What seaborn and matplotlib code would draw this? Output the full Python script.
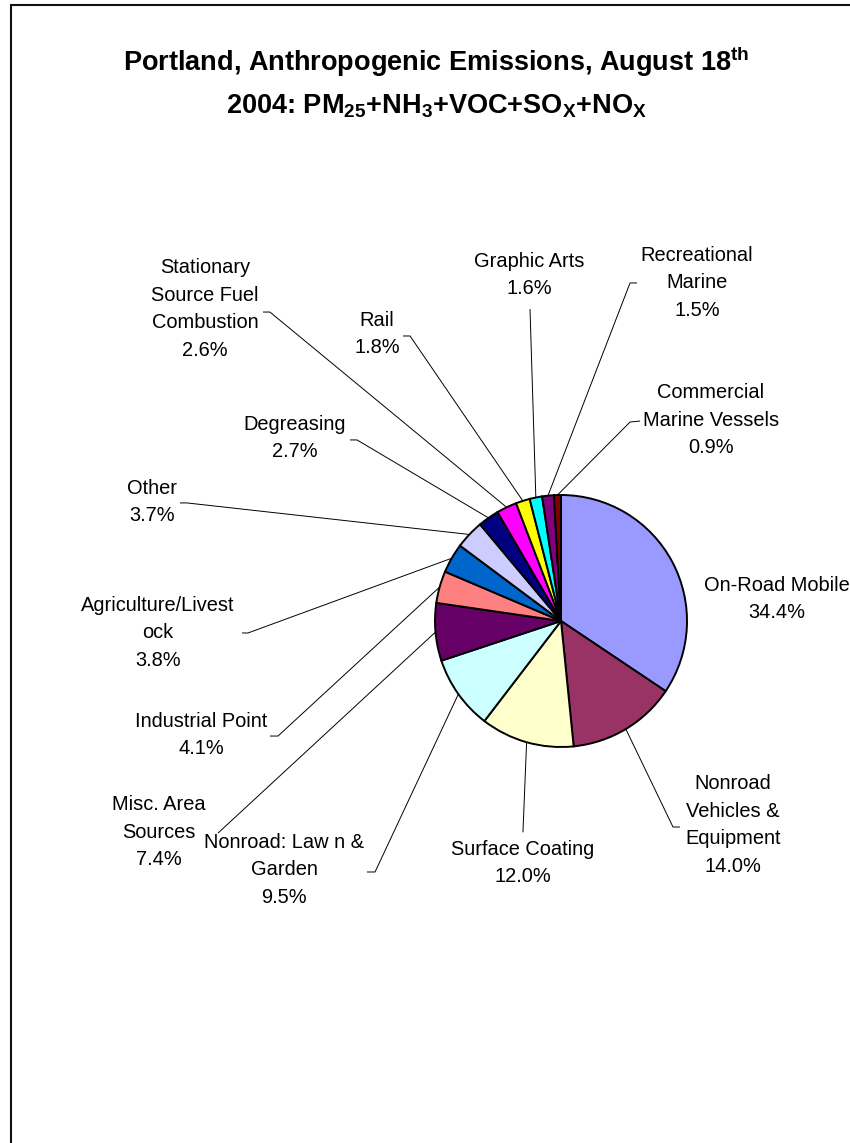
import matplotlib
matplotlib.use("Agg")
import matplotlib.pyplot as plt
from matplotlib.patches import Rectangle
import numpy as np
import seaborn as sns

# Emission source categories (clockwise from 12 o'clock) and their shares (%)
categories = [
    "On-Road Mobile",
    "Nonroad\nVehicles &\nEquipment",
    "Surface Coating",
    "Nonroad: Law n &\nGarden",
    "Misc. Area\nSources",
    "Industrial Point",
    "Agriculture/Livest\nock",
    "Other",
    "Degreasing",
    "Stationary\nSource Fuel\nCombustion",
    "Rail",
    "Graphic Arts",
    "Recreational\nMarine",
    "Commercial\nMarine Vessels",
]
shares = [34.4, 14.0, 12.0, 9.5, 7.4, 4.1, 3.8, 3.7, 2.7, 2.6, 1.8, 1.6, 1.5, 0.9]
slice_colors = [
    "#9999FF", "#993366", "#FFFFCC", "#CCFFFF", "#660066", "#FF8080", "#0066CC",
    "#CCCCFF", "#000080", "#FF00FF", "#FFFF00", "#00FFFF", "#800080", "#800000",
]

# Label layout, in pie-radius units relative to the pie centre:
# text centre, and the leader-line path (elbow, end) or None
label_pos = [
    (1.714, 0.175), (1.365, -1.619), (-0.302, -1.921), (-2.198, -1.976),
    (-3.190, -1.675), (-2.857, -0.905), (-3.198, -0.095), (-3.246, 0.944),
    (-2.111, 1.452), (-2.825, 2.476), (-1.460, 2.278), (-0.254, 2.746),
    (1.079, 2.683), (1.190, 1.595),
]
leader_path = [
    None,
    [(0.889, -1.635), (0.944, -1.635)],
    [(-0.302, -1.677)],
    [(-1.476, -1.992), (-1.540, -1.992)],
    [(-2.722, -1.683)],
    [(-2.246, -0.913), (-2.310, -0.913)],
    [(-2.484, -0.095), (-2.532, -0.095)],
    [(-2.968, 0.937), (-3.024, 0.937)],
    [(-1.619, 1.437), (-1.675, 1.437)],
    [(-2.310, 2.452), (-2.365, 2.452)],
    [(-1.198, 2.262), (-1.254, 2.262)],
    [(-0.246, 2.476)],
    [(0.548, 2.683), (0.603, 2.683)],
    [(0.548, 1.579), (0.627, 1.587)],
]

W, H = 850, 1143
PIE_CX, PIE_CY, PIE_R = 561, 621, 126  # pixels, from top-left

sns.set_theme(style="white")
plt.rcParams["font.family"] = ["Liberation Sans", "DejaVu Sans"]
plt.rcParams["text.color"] = "black"
plt.rcParams["mathtext.fontset"] = "custom"
plt.rcParams["mathtext.rm"] = "Liberation Sans"
plt.rcParams["mathtext.bf"] = "Liberation Sans:bold"

fig = plt.figure(figsize=(W / 100, H / 100), dpi=100, facecolor="white")
ax = fig.add_axes([0, 0, 1, 1])

palette = sns.color_palette(slice_colors)
wedges, _ = ax.pie(
    shares,
    colors=palette,
    startangle=90,
    counterclock=False,
    radius=1.0,
    center=(0, 0),
    wedgeprops=dict(edgecolor="black", linewidth=1.4),
)

# whole figure in pie-radius units so that the pie sits at its pixel position
ax.set_xlim(-PIE_CX / PIE_R, (W - PIE_CX) / PIE_R)
ax.set_ylim(-(H - PIE_CY) / PIE_R, PIE_CY / PIE_R)
ax.set_aspect("equal")
ax.axis("off")

for w, name, val, pos, path in zip(wedges, categories, shares, label_pos, leader_path):
    ax.text(pos[0], pos[1], f"{name}\n{val:.1f}%", ha="center", va="center",
            fontsize=14.4, linespacing=1.57, color="black")
    if path:
        mid = np.deg2rad((w.theta1 + w.theta2) / 2)
        xs = [np.cos(mid)] + [p[0] for p in path]
        ys = [np.sin(mid)] + [p[1] for p in path]
        ax.plot(xs, ys, color="black", linewidth=0.7, solid_capstyle="butt")

# chart title
title_x = 436 / W
fig.text(title_x, 1 - 62 / H,
         r"Portland, Anthropogenic Emissions, August 18$^{\mathbf{th}}$",
         ha="center", va="center", fontsize=19.5, fontweight="bold", color="black")
fig.text(title_x, 1 - 106 / H,
         r"2004: PM$_{\mathbf{25}}$+NH$_{\mathbf{3}}$+VOC+SO$_{\mathbf{X}}$+NO$_{\mathbf{X}}$",
         ha="center", va="center", fontsize=19.5, fontweight="bold", color="black")

# chart-area frame (left and top edges fall inside the canvas)
fig.add_artist(Rectangle((11 / W, -0.05), 1.2, 1.05 - 5 / H, transform=fig.transFigure,
                         fill=False, edgecolor="#111111", linewidth=1.5))

fig.savefig("out.png", dpi=100, facecolor="white")
